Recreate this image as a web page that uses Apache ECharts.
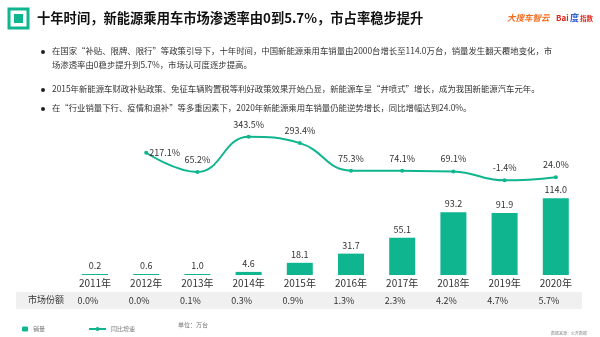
<!DOCTYPE html>
<html>
<head>
<meta charset="utf-8">
<script src="https://cdn.jsdelivr.net/npm/echarts@6/dist/echarts.min.js"></script>
<style>
  html, body { margin: 0; padding: 0; background: #fff; }
  #chart { width: 600px; height: 337px; }
</style>
</head>
<body>
<div id="chart"></div>
<script>
// Years on the category axis
const years = ['2011年', '2012年', '2013年', '2014年', '2015年', '2016年', '2017年', '2018年', '2019年', '2020年'];
// NEV passenger car sales, 10k units
const sales = [0.2, 0.6, 1.0, 4.6, 18.1, 31.7, 55.1, 93.2, 91.9, 114.0];
// Year-on-year growth, %
const growth = [null, 217.1, 65.2, 343.5, 293.4, 75.3, 74.1, 69.1, -1.4, 24.0];
// Market share (penetration), %
const share = [0.0, 0.0, 0.1, 0.3, 0.9, 1.3, 2.3, 4.2, 4.7, 5.7];

const title = '十年时间，新能源乘用车市场渗透率由0到5.7%，市占率稳步提升';
const bullets = [
  ['在国家“补贴、限牌、限行”等政策引导下，十年时间，中国新能源乘用车销量由2000台增长至114.0万台，销量发生翻天覆地变化，市',
   '场渗透率由0稳步提升到5.7%，市场认可度逐步提高。'],
  ['2015年新能源车财政补贴政策、免征车辆购置税等利好政策效果开始凸显，新能源车呈“井喷式”增长，成为我国新能源汽车元年。'],
  ['在“行业销量下行、疫情和退补”等多重因素下，2020年新能源乘用车销量仍能逆势增长，同比增幅达到24.0%。']
];

const GREEN = '#0fb58f';
const FONT = '"Noto Sans CJK SC", "Noto Sans", sans-serif';

const chart = echarts.init(document.getElementById('chart'), null, { renderer: 'canvas' });

// header, bullet text and table band
const graphics = [
  { type: 'rect', shape: { x: 9, y: 9, width: 19, height: 19 }, style: { fill: 'none', stroke: GREEN, lineWidth: 3 } },
  { type: 'rect', shape: { x: 14, y: 14, width: 9, height: 9 }, style: { fill: GREEN } },
  { type: 'text', left: 37, top: 11, style: { text: title, font: 'bold 13.3px ' + FONT, fill: '#111' } },
  { type: 'text', left: 507, top: 14, style: { text: '大搜车智云', font: 'italic bold 8.5px ' + FONT, fill: '#f36d21' } },
  { type: 'text', left: 556, top: 14, style: { text: 'Bai', font: 'bold 8px ' + FONT, fill: '#e1251b' } },
  { type: 'text', left: 570, top: 13, style: { text: '度', font: 'bold 9px ' + FONT, fill: '#2f5bd3' } },
  { type: 'text', left: 580, top: 15, style: { text: '指数', font: 'bold 6.5px ' + FONT, fill: '#e1251b' } },
  { type: 'rect', z: -1, shape: { x: 16, y: 292, width: 566, height: 17 }, style: { fill: '#f0f0f0' } },
  { type: 'text', left: 28, top: 295, style: { text: '市场份额', font: '9px ' + FONT, fill: '#333' } },
  { type: 'text', left: 178, top: 322, style: { text: '单位：万台', font: '6px ' + FONT, fill: '#777' } },
  { type: 'text', left: 551, top: 331, style: { text: '数据来源：公开数据', font: '4px ' + FONT, fill: '#888' } }
];
const bulletTops = [[47, 61], [85], [104]];
bullets.forEach((lines, i) => {
  graphics.push({ type: 'circle', shape: { cx: 43, cy: bulletTops[i][0] + 5, r: 2 }, style: { fill: '#222' } });
  lines.forEach((t, j) => {
    graphics.push({ type: 'text', left: 52, top: bulletTops[i][j], style: { text: t, font: '8.4px ' + FONT, fill: '#333' } });
  });
});

chart.setOption({
  animation: false,
  textStyle: { fontFamily: FONT },
  graphic: graphics,
  legend: [
    { data: ['销量'], left: 17, top: 321, itemWidth: 6, itemHeight: 5, itemGap: 4,
      textStyle: { fontSize: 6, color: '#777' } },
    { data: ['同比增速'], left: 83, top: 321, itemWidth: 17, itemHeight: 5,
      textStyle: { fontSize: 6, color: '#777' } }
  ],
  grid: [
    { left: 69.4, right: 18.6, top: 120, bottom: 62 },
    { left: 69.4, right: 18.6, top: 294, height: 1 }
  ],
  xAxis: [
    { type: 'category', data: years, gridIndex: 0,
      axisLine: { show: false }, axisTick: { show: false },
      axisLabel: { fontSize: 10, color: '#333', margin: 3 } },
    { type: 'category', data: share, gridIndex: 1,
      axisLine: { show: false }, axisTick: { show: false },
      axisLabel: { fontSize: 9, color: '#333', margin: 1, padding: [0, 14, 0, 0],
                   formatter: v => Number(v).toFixed(1) + '%' } }
  ],
  yAxis: [
    { type: 'value', gridIndex: 0, min: 0, max: 230, show: false },
    { type: 'value', gridIndex: 0, min: -750, max: 476, show: false },
    { type: 'value', gridIndex: 1, show: false }
  ],
  series: [
    { name: '销量', type: 'bar', data: sales, barWidth: 26, barMinHeight: 1,
      itemStyle: { color: GREEN },
      label: { show: true, position: 'top', distance: 4, fontSize: 9, color: '#333',
               formatter: p => p.value.toFixed(1) } },
    { name: '同比增速', type: 'line', yAxisIndex: 1, smooth: 0.45,
      data: growth.map((v, i) => i === 1
        ? { value: v, label: { position: 'right', distance: 1 } }
        : v),
      symbol: 'circle', symbolSize: 4, showSymbol: true,
      lineStyle: { color: GREEN, width: 2 }, itemStyle: { color: GREEN },
      label: { show: true, position: 'top', distance: 6, fontSize: 9, color: '#333',
               formatter: p => p.value.toFixed(1) + '%' } }
  ]
});
</script>
</body>
</html>
